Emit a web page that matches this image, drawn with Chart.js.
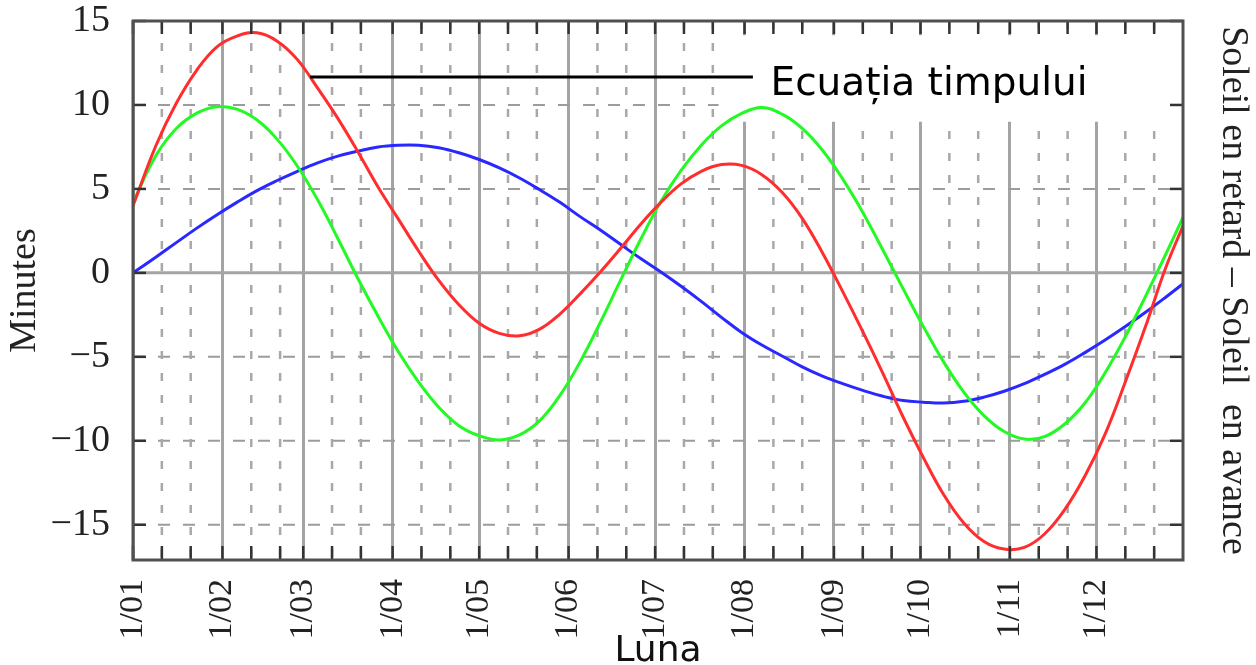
<!DOCTYPE html>
<html>
<head>
<meta charset="utf-8">
<title>Ecuația timpului</title>
<script src="https://cdn.jsdelivr.net/npm/chart.js@4.4.1/dist/chart.umd.min.js"></script>
<style>
  html, body { margin: 0; padding: 0; background: #fff; overflow: hidden; }
  canvas { display: block; }
</style>
</head>
<body>
<canvas id="chart0" width="1256" height="665"></canvas>
<script>
// day of year where each month starts, and its label
const monthStarts = [0, 31, 59, 90, 120, 151, 181, 212, 243, 273, 304, 334];
const monthLabels = ["1/01", "1/02", "1/03", "1/04", "1/05", "1/06", "1/07", "1/08", "1/09", "1/10", "1/11", "1/12"];
const yTicks = [-15, -10, -5, 0, 5, 10, 15];

// sample days (read off the picture roughly once a week)
const days = [0, 8, 15, 22, 29, 36, 43, 50, 57, 64, 71, 78, 85, 92, 99, 106, 113, 120, 127, 134,
  141, 148, 155, 162, 169, 176, 183, 190, 197, 204, 211, 218, 225, 232, 239, 246, 253, 260,
  267, 274, 281, 288, 295, 302, 309, 316, 323, 330, 337, 344, 351, 358, 364];

// equation of time (red)
const ecuatia = [4.0, 7.6, 10.1, 12.05, 13.45, 14.1, 14.3, 13.8, 12.7, 11.0, 9.2, 7.2, 5.1, 3.2,
  1.3, -0.45, -1.9, -3.0, -3.6, -3.75, -3.35, -2.45, -1.25, 0.05, 1.45, 2.9, 4.2, 5.3, 6.05, 6.45,
  6.4, 5.85, 4.8, 3.25, 1.2, -1.1, -3.5, -6.0, -8.6, -11.0, -13.2, -14.9, -16.0, -16.45, -16.35,
  -15.55, -14.1, -12.1, -9.6, -6.5, -3.2, 0.3, 2.8];

// obliquity part (green)
const oblicitate = [4.2, 7.0, 8.6, 9.5, 9.9, 9.75, 9.1, 7.95, 6.35, 4.35, 2.05, -0.35, -2.6, -4.7,
  -6.5, -8.0, -9.1, -9.7, -9.95, -9.65, -8.8, -7.3, -5.3, -2.95, -0.45, 2.0, 4.25, 6.1, 7.6, 8.75,
  9.5, 9.85, 9.45, 8.6, 7.3, 5.6, 3.6, 1.35, -0.95, -3.2, -5.3, -7.1, -8.5, -9.45, -9.9, -9.75,
  -9.0, -7.75, -5.95, -3.8, -1.4, 1.1, 3.3];

// eccentricity part (blue)
const excentricitate = [0.0, 0.95, 1.8, 2.65, 3.45, 4.2, 4.9, 5.5, 6.05, 6.55, 6.95, 7.25, 7.5, 7.6,
  7.6, 7.45, 7.15, 6.75, 6.25, 5.65, 4.95, 4.2, 3.35, 2.55, 1.7, 0.85, 0.05, -0.8, -1.7, -2.65,
  -3.55, -4.3, -4.95, -5.6, -6.15, -6.6, -7.0, -7.35, -7.6, -7.7, -7.75, -7.65, -7.4, -7.05, -6.6,
  -6.05, -5.45, -4.75, -4.0, -3.2, -2.35, -1.45, -0.65];

const noteText = "Ecuația timpului";

// dashed lines every 10 days inside each month
const minorDays = monthStarts.flatMap(m => [m + 10, m + 20]).filter(d => d < 364);

let ctx = document.getElementById("chart0").getContext("2d");

function points(values) {
  return days.map((d, i) => ({ x: d, y: values[i] }));
}

function stroke(c, x1, y1, x2, y2) {
  c.beginPath();
  c.moveTo(x1, y1);
  c.lineTo(x2, y2);
  c.stroke();
}

// fixed box sizes so the plot sits where it does in the picture
function fixWidth(w) {
  return function (scale) {
    scale.width = w;
    scale.paddingTop = 0;
    scale.paddingBottom = 0;
  };
}

const sheetLines = {
  id: "sheetLines",
  beforeDatasetsDraw(chart) {
    const { chartArea: a, scales } = chart;
    const c = chart.ctx;
    const x = scales.x, y = scales.y;
    c.save();
    // dashed horizontals
    c.lineWidth = 2;
    c.strokeStyle = "#9c9c9c";
    c.setLineDash([12, 13]);
    yTicks.forEach(v => {
      if (v === 0) return;
      const py = y.getPixelForValue(v);
      stroke(c, a.left, py, a.right, py);
    });
    // dashed verticals
    c.lineWidth = 2.5;
    c.strokeStyle = "#a8a8a8";
    c.setLineDash([8, 14]);
    minorDays.forEach(d => {
      const px = x.getPixelForValue(d);
      stroke(c, px, a.top, px, a.bottom);
    });
    // zero line
    c.setLineDash([]);
    c.lineWidth = 3;
    c.strokeStyle = "#a4a4a4";
    const p0 = y.getPixelForValue(0);
    stroke(c, a.left, p0, a.right, p0);
    // white patch under the label
    const bx = x.getPixelForValue(203);
    const by = y.getPixelForValue(14.15);
    c.fillStyle = "#fff";
    c.fillRect(bx, by, a.right - bx, y.getPixelForValue(9.0) - by);
    c.restore();
  },
  afterDatasetsDraw(chart) {
    const { chartArea: a, scales } = chart;
    const c = chart.ctx;
    const x = scales.x, y = scales.y;
    c.save();
    // inward tick marks
    c.strokeStyle = "#333";
    c.lineWidth = 2.5;
    monthStarts.concat(minorDays).forEach(d => {
      const px = x.getPixelForValue(d);
      stroke(c, px, a.top, px, a.top + 13);
      stroke(c, px, a.bottom, px, a.bottom - 14);
    });
    yTicks.forEach(v => {
      const py = y.getPixelForValue(v);
      stroke(c, a.left, py, a.left + 13, py);
      stroke(c, a.right, py, a.right - 13, py);
    });
    // frame
    c.strokeStyle = "#505050";
    c.lineWidth = 3;
    c.strokeRect(a.left, a.top, a.right - a.left, a.bottom - a.top);
    // label with its leader line
    c.strokeStyle = "#000";
    c.lineWidth = 3;
    const ly = y.getPixelForValue(11.67);
    stroke(c, x.getPixelForValue(61.4), ly, x.getPixelForValue(214.9), ly);
    c.fillStyle = "#000";
    c.font = "39px 'DejaVu Sans'";
    c.textBaseline = "alphabetic";
    c.fillText(noteText, x.getPixelForValue(221), y.getPixelForValue(10.6));
    c.restore();
  }
};

Chart.defaults.font.family = "'Liberation Serif', serif";
Chart.defaults.color = "#222";

function line(values, color) {
  return {
    data: points(values),
    borderColor: color,
    borderWidth: 3,
    pointRadius: 0,
    fill: false,
    tension: 0.4
  };
}

let chart = new Chart(ctx, {
  type: "line",
  data: {
    datasets: [
      line(ecuatia, "rgb(255, 45, 45)"),
      line(oblicitate, "rgb(35, 250, 35)"),
      line(excentricitate, "rgb(40, 40, 255)")
    ]
  },
  options: {
    responsive: false,
    devicePixelRatio: 1,
    animation: false,
    layout: { padding: { top: 21, left: 0, right: 0, bottom: 0 } },
    plugins: { legend: { display: false }, tooltip: { enabled: false } },
    scales: {
      x: {
        type: "linear",
        min: 0,
        max: 364,
        afterBuildTicks: s => { s.ticks = monthStarts.map(v => ({ value: v })); },
        afterFit: s => { s.height = 105; s.paddingLeft = 0; s.paddingRight = 0; },
        ticks: {
          autoSkip: false,
          minRotation: 90,
          maxRotation: 90,
          padding: 19,
          font: { size: 34 },
          callback: v => monthLabels[monthStarts.indexOf(v)]
        },
        grid: { color: "#a4a4a4", lineWidth: 3, drawTicks: false },
        border: { display: false },
        title: {
          display: true,
          text: "Luna",
          color: "#111",
          font: { family: "'DejaVu Sans'", size: 36, lineHeight: 0.75 },
          padding: 0
        }
      },
      y: {
        min: -17.1,
        max: 15,
        afterBuildTicks: s => { s.ticks = yTicks.map(v => ({ value: v })); },
        afterFit: fixWidth(133),
        ticks: {
          padding: 23,
          font: { size: 38, lineHeight: 1 },
          callback: v => (v < 0 ? "\u2212" + Math.abs(v) : String(v))
        },
        grid: { display: false, drawTicks: false },
        border: { display: false },
        title: {
          display: true,
          text: "Minutes",
          font: { size: 38, lineHeight: 1.3 },
          padding: 0
        }
      },
      y2: {
        position: "right",
        afterFit: fixWidth(73),
        ticks: { display: false },
        grid: { display: false, drawTicks: false },
        border: { display: false },
        title: {
          display: true,
          text: "Soleil en retard \u2013 Soleil  en avance",
          font: { size: 38, lineHeight: 1.2 },
          padding: 0
        }
      }
    }
  },
  plugins: [sheetLines]
});
</script>
</body>
</html>
